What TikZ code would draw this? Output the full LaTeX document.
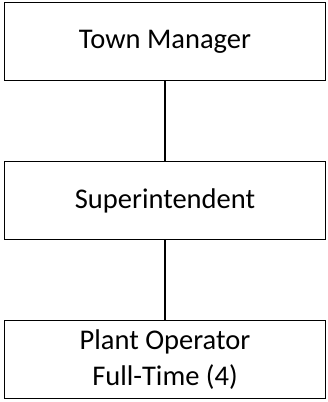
\documentclass[tikz,border=0pt]{standalone}
\usepackage{fontspec}
\setmainfont{Carlito}
\usetikzlibrary{positioning}

\begin{document}
\begin{tikzpicture}[
      node distance=81pt,
      post/.style={rectangle, draw, line width=1.5pt, outer sep=0pt, minimum width=321pt, minimum height=78pt, align=center, font=\fontsize{28.5}{36}\selectfont},
      link/.style={line width=1.5pt}
    ]
    \useasboundingbox (0,0) rectangle (327pt,402pt);

    \node[post] (manager) at (165pt,360.25pt) {Town Manager};
    \node[post, below=of manager] (super) {Superintendent};
    \node[post, below=of super] (operator) {Plant Operator\\Full-Time (4)};

    \draw[link] (manager) -- (super);
    \draw[link] (super) -- (operator);
  \end{tikzpicture}
\end{document}
